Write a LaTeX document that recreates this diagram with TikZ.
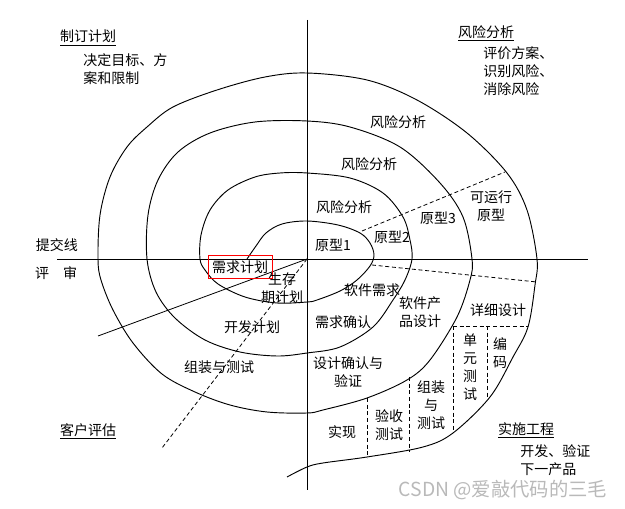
\documentclass[tikz,border=0pt]{standalone}
\usepackage{fontspec}
\newfontfamily\cjk{Noto Sans CJK SC}
\begin{document}
\begin{tikzpicture}[x=0.75pt,y=-0.75pt,
    lbl/.style={font=\cjk\fontsize{10.5}{13.5}\selectfont,inner sep=0pt,align=center},
    cut/.style={dash pattern=on 3pt off 2pt,line width=0.6pt}]
  \useasboundingbox (0,0) rectangle (625,509);
  \coordinate (O) at (307,259);
  \coordinate (xl) at (57,259);
  \coordinate (xr) at (588,259);
  \coordinate (yt) at (307,20);
  \coordinate (yb) at (307,490);
  \draw [line width=0.7pt] (xl) -- (xr);
  \draw [line width=0.7pt] (yt) -- (yb);
  % spiral
  \draw [line width=0.7pt] plot [smooth,tension=0.55] coordinates {
    (247,259) (256,246) (266,233) (282,224) (307,221) (338,225) (360,233) (370,243) (374,255)
    (370,266) (357,280) (340,291) (317,300) (307,302) (277,303) (245,297) (218,284) (205,270) (200,259)
    (201,235) (210,210) (228,190) (255,177) (280,173) (307,173) (350,178) (383,193) (403,217)
    (410,240) (412,259) (405,280) (393,300) (373,327) (340,347) (307,353) (277,356)
    (240,352) (205,340) (175,318) (156,292) (147,259)
    (148,215) (158,180) (178,152) (210,133) (255,122) (307,121) (350,127) (400,147) (440,183)
    (463,217) (472,259) (470,280) (457,317) (430,360) (407,380) (367,398) (323,410) (307,413)
    (267,412) (230,405) (195,392) (162,374) (133,343) (113,310) (101,280) (98,259)
    (100,215) (110,177) (127,147) (147,127) (173,107) (217,90) (265,77) (307,73) (367,80)
    (417,100) (467,133) (507,173) (527,210) (537,259) (535,285) (528,327) (513,357) (490,397)
    (453,433) (423,447) (367,457) (323,463) (307,467) (287,477)};
  \draw [line width=0.6pt] (O) -- (98,336);
  \draw [cut] (O) -- (162,448);
  \draw [cut] (362,231) -- (505,172);
  \draw [cut] (372,265) -- (537,282);
  \draw [cut] (453,326) -- (528,326);
  \foreach \x/\y in {453/432,487/399}
    \draw [cut] (\x,326) -- (\x,\y);
  \draw [cut] (409,377) -- (409,452);
  \draw [cut] (367,398) -- (367,458);
  \draw [red,line width=0.6pt] (208,255) rectangle (272,278);
  % labels
  \node [lbl] (plan) at (88,38) {\underline{制订计划}};
  \node [lbl,align=left,anchor=west] (plantxt) at (83,69) {决定目标、方\\案和限制};
  \node [lbl] (risk) at (486,33) {\underline{风险分析}};
  \node [lbl,align=left,anchor=west] (risktxt) at (483,71) {评价方案、\\识别风险、\\消除风险};
  \node [lbl] (ra) at (398,122) {风险分析};
  \node [lbl] (rb) at (369,164) {风险分析};
  \node [lbl] (rc) at (344,207) {风险分析};
  \node [lbl] (p1) at (333,245) {原型1};
  \node [lbl] (p2) at (392,237) {原型2};
  \node [lbl] (p3) at (438,218) {原型3};
  \node [lbl] (run) at (491,206) {可运行\\原型};
  \node [lbl] (submit) at (57,245) {提交线};
  \node [lbl] (review) at (56,273) {评\quad 审};
  \node [lbl] (reqplan) at (240,267) {需求计划};
  \node [lbl] (life) at (282,288) {生存\\期计划};
  \node [lbl] (devplan) at (252,327) {开发计划};
  \node [lbl] (asm) at (219,367) {组装与测试};
  \node [lbl] (cust) at (88,431) {\underline{客户评估}};
  \node [lbl] (swreq) at (372,290) {软件需求};
  \node [lbl] (reqchk) at (343,322) {需求确认};
  \node [lbl] (swdes) at (420,312) {软件产\\品设计};
  \node [lbl] (detail) at (498,310) {详细设计};
  \node [lbl] (deschk) at (348,372) {设计确认与\\验证};
  \node [lbl] (unit) at (470,367) {单\\元\\测\\试};
  \node [lbl] (code) at (500,353) {编\\码};
  \node [lbl] (asmtest) at (431,405) {组装\\与\\测试};
  \node [lbl] (impl) at (342,432) {实现};
  \node [lbl] (acc) at (389,425) {验收\\测试};
  \node [lbl] (eng) at (526,430) {\underline{实施工程}};
  \node [lbl,align=left,anchor=west] (engtxt) at (520,460) {开发、验证\\下一产品};
  \node [font=\cjk\fontsize{14.5}{16}\selectfont,text=gray!55,inner sep=0pt] (mark) at (503,490) {CSDN @爱敲代码的三毛};
\end{tikzpicture}
\end{document}
